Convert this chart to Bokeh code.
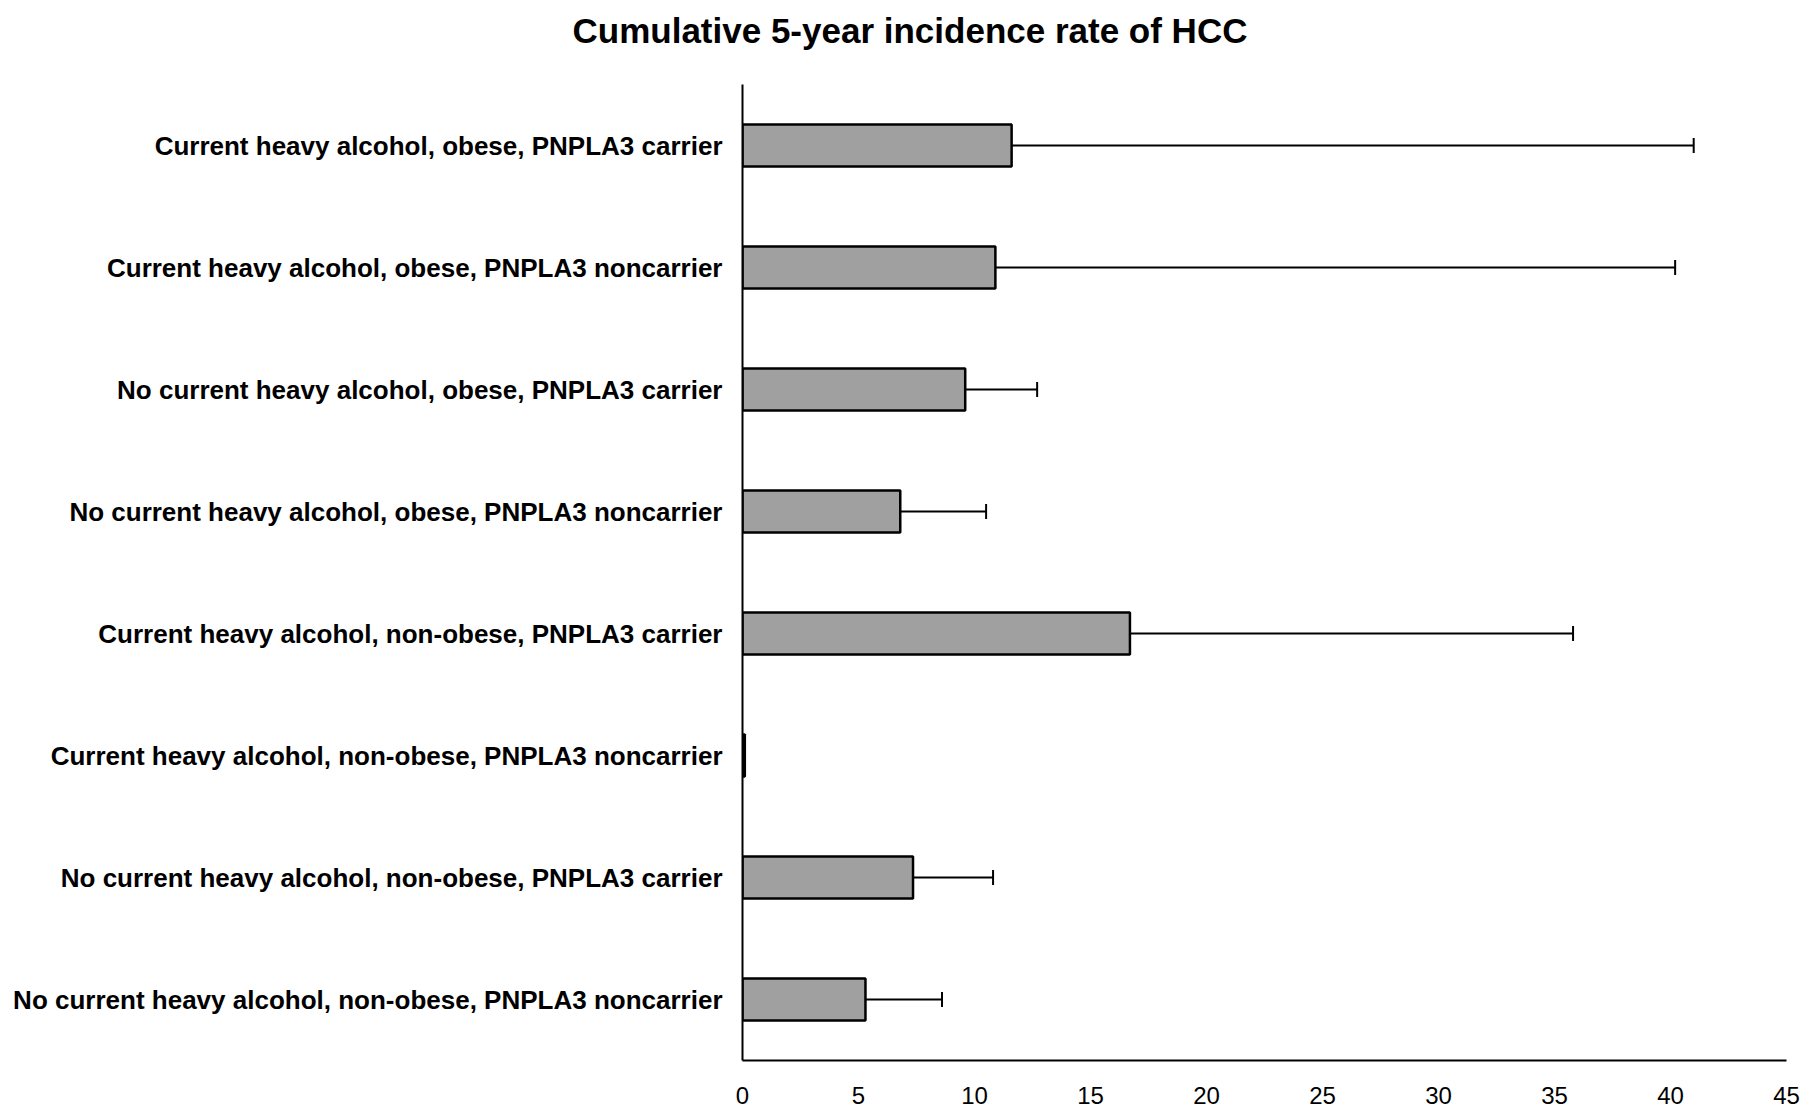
from bokeh.plotting import figure
from bokeh.models import (ColumnDataSource, FactorRange, Whisker, TeeHead, Range1d,
                          FixedTicker, Title)
from bokeh.embed import file_html
from bokeh.resources import INLINE

title_text = "Cumulative 5-year incidence rate of HCC"
categories = [
    "Current heavy alcohol, obese, PNPLA3 carrier",
    "Current heavy alcohol, obese, PNPLA3 noncarrier",
    "No current heavy alcohol, obese, PNPLA3 carrier",
    "No current heavy alcohol, obese, PNPLA3 noncarrier",
    "Current heavy alcohol, non-obese, PNPLA3 carrier",
    "Current heavy alcohol, non-obese, PNPLA3 noncarrier",
    "No current heavy alcohol, non-obese, PNPLA3 carrier",
    "No current heavy alcohol, non-obese, PNPLA3 noncarrier",
]
rates = [11.6, 10.9, 9.6, 6.8, 16.7, 0.1, 7.35, 5.3]
ci_lower = [3.2, 3.0, 7.2, 4.3, 7.75, None, 4.9, 3.25]
ci_upper = [41.0, 40.2, 12.7, 10.5, 35.8, None, 10.8, 8.6]
x_ticks = [0, 5, 10, 15, 20, 25, 30, 35, 40, 45]

p = figure(
    width=1800, height=1116,
    y_range=FactorRange(factors=list(reversed(categories)), range_padding=0),
    x_range=Range1d(0, 45),
    output_backend="svg", toolbar_location=None,
    min_border_left=742, min_border_right=14, min_border_bottom=56, min_border_top=84,
)
p.outline_line_color = None
p.xgrid.grid_line_color = None
p.ygrid.grid_line_color = None

# spacer between the title and the plotting frame, then the title itself
spacer = Title(text=" ", text_font_size="1px", standoff=24)
p.add_layout(spacer, "above")
main_title = Title(text=title_text, align="left", offset=-170,
                   text_font="Liberation Sans", text_font_style="bold",
                   text_font_size="35px", text_color="black", standoff=16)
p.add_layout(main_title, "above")

src = ColumnDataSource(dict(cat=categories, rate=rates))
p.hbar(y="cat", right="rate", left=0, height=0.345, source=src,
       fill_color="#a0a0a0", line_color="black", line_width=2.5)

wcat = [c for c, l in zip(categories, ci_lower) if l is not None]
wlo = [l for l in ci_lower if l is not None]
whi = [u for u in ci_upper if u is not None]
wsrc = ColumnDataSource(dict(cat=wcat, lo=wlo, hi=whi))
w = Whisker(source=wsrc, base="cat", lower="lo", upper="hi", dimension="width",
            line_color="black", line_width=2,
            upper_head=TeeHead(size=15, line_color="black", line_width=2),
            lower_head=TeeHead(size=15, line_color="black", line_width=2))
p.add_layout(w)

p.xaxis.ticker = FixedTicker(ticks=x_ticks)
p.xaxis.axis_line_color = "black"
p.xaxis.axis_line_width = 2
p.xaxis.major_tick_line_color = None
p.xaxis.minor_tick_line_color = None
p.xaxis.major_tick_out = 0
p.xaxis.major_tick_in = 0
p.xaxis.minor_tick_out = 0
p.xaxis.major_label_standoff = 26
p.xaxis.major_label_text_font = "Liberation Sans"
p.xaxis.major_label_text_font_size = "24px"
p.xaxis.major_label_text_color = "black"

p.yaxis.axis_line_color = "black"
p.yaxis.axis_line_width = 2
p.yaxis.major_tick_line_color = None
p.yaxis.minor_tick_line_color = None
p.yaxis.major_tick_out = 0
p.yaxis.major_tick_in = 0
p.yaxis.major_label_standoff = 20
p.yaxis.major_label_text_font = "Liberation Sans"
p.yaxis.major_label_text_font_style = "bold"
p.yaxis.major_label_text_font_size = "26px"
p.yaxis.major_label_text_color = "black"

open("out.html", "w").write(file_html(p, INLINE))
